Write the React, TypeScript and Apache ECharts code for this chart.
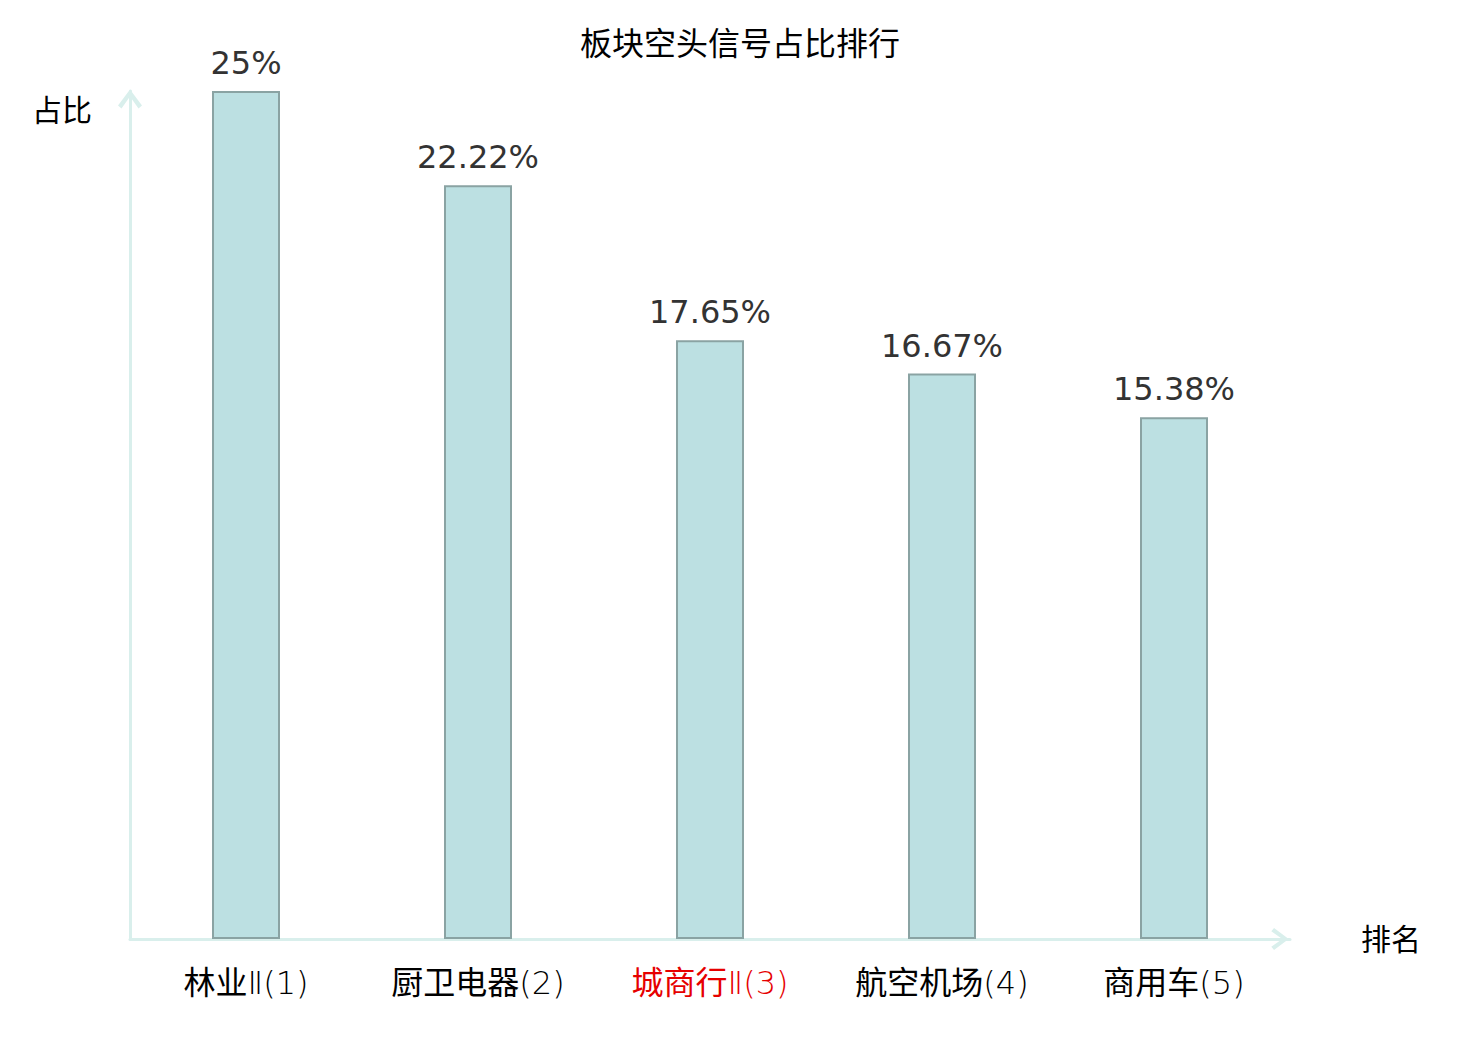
import React, { useEffect, useRef } from "react";
import * as echarts from "echarts";

const categories = ["林业Ⅱ(1)", "厨卫电器(2)", "城商行Ⅱ(3)", "航空机场(4)", "商用车(5)"];
const values = [25, 22.22, 17.65, 16.67, 15.38];
const highlighted = ["城商行Ⅱ(3)"];
const titleText = "板块空头信号占比排行";
const yName = "占比";
const xName = "排名";

const chevron = "path://M0,16 L12,0 L24,16 L20.5,19 L12,7 L3.5,19 Z";
const axisColor = "#d9efec";
const fontFamily = "'DejaVu Sans', 'Noto Sans CJK SC', sans-serif";
const labelFamily = "'DejaVu Sans Light', 'DejaVu Sans ExtraLight', 'Noto Sans CJK SC', sans-serif";

export default function App() {
  const ref = useRef<HTMLDivElement>(null);
  useEffect(() => {
    document.body.style.margin = "0";
    const chart = echarts.init(ref.current!, null, { renderer: "svg" });
    chart.setOption({
      animation: false,
      backgroundColor: "#ffffff",
      textStyle: { fontFamily },
      title: {
        text: titleText,
        left: "center",
        top: 23,
        textStyle: { fontSize: 32, fontWeight: "normal", color: "#000", fontFamily },
      },
      grid: { left: 130, right: 190, top: 91, bottom: 101 },
      xAxis: {
        type: "category",
        data: categories.map((c) =>
          highlighted.includes(c) ? { value: c, textStyle: { color: "#e60000" } } : c
        ),
        name: xName,
        nameLocation: "end",
        nameGap: 71,
        nameTextStyle: { fontSize: 30, color: "#000", fontFamily },
        axisLine: {
          show: true,
          lineStyle: { color: axisColor, width: 3 },
          symbol: ["none", chevron],
          symbolSize: [22, 20],
          symbolOffset: [0, -10],
        },
        axisTick: { show: false },
        axisLabel: { fontSize: 32, color: "#000", margin: 28, fontFamily: labelFamily },
      },
      yAxis: {
        type: "value",
        min: 0,
        max: 25,
        name: yName,
        nameLocation: "end",
        nameGap: -19,
        nameTextStyle: {
          fontSize: 30,
          color: "#000",
          fontFamily,
          align: "right",
          verticalAlign: "middle",
          padding: [0, 38, 0, 0],
        },
        axisLine: {
          show: true,
          lineStyle: { color: axisColor, width: 3 },
          symbol: ["none", chevron],
          symbolSize: [24, 20],
          symbolOffset: [0, -8],
        },
        axisTick: { show: false },
        axisLabel: { show: false },
        splitLine: { show: false },
      },
      series: [
        {
          type: "bar",
          data: values,
          barWidth: 68,
          itemStyle: { color: "#bce0e2", borderColor: "#8aa3a3", borderWidth: 2 },
          label: {
            show: true,
            position: "top",
            distance: 12,
            formatter: "{c}%",
            fontSize: 32,
            color: "#333",
            fontFamily,
          },
        },
      ],
    });
    return () => chart.dispose();
  }, []);
  return <div ref={ref} style={{ width: 1480, height: 1040 }} />;
}
